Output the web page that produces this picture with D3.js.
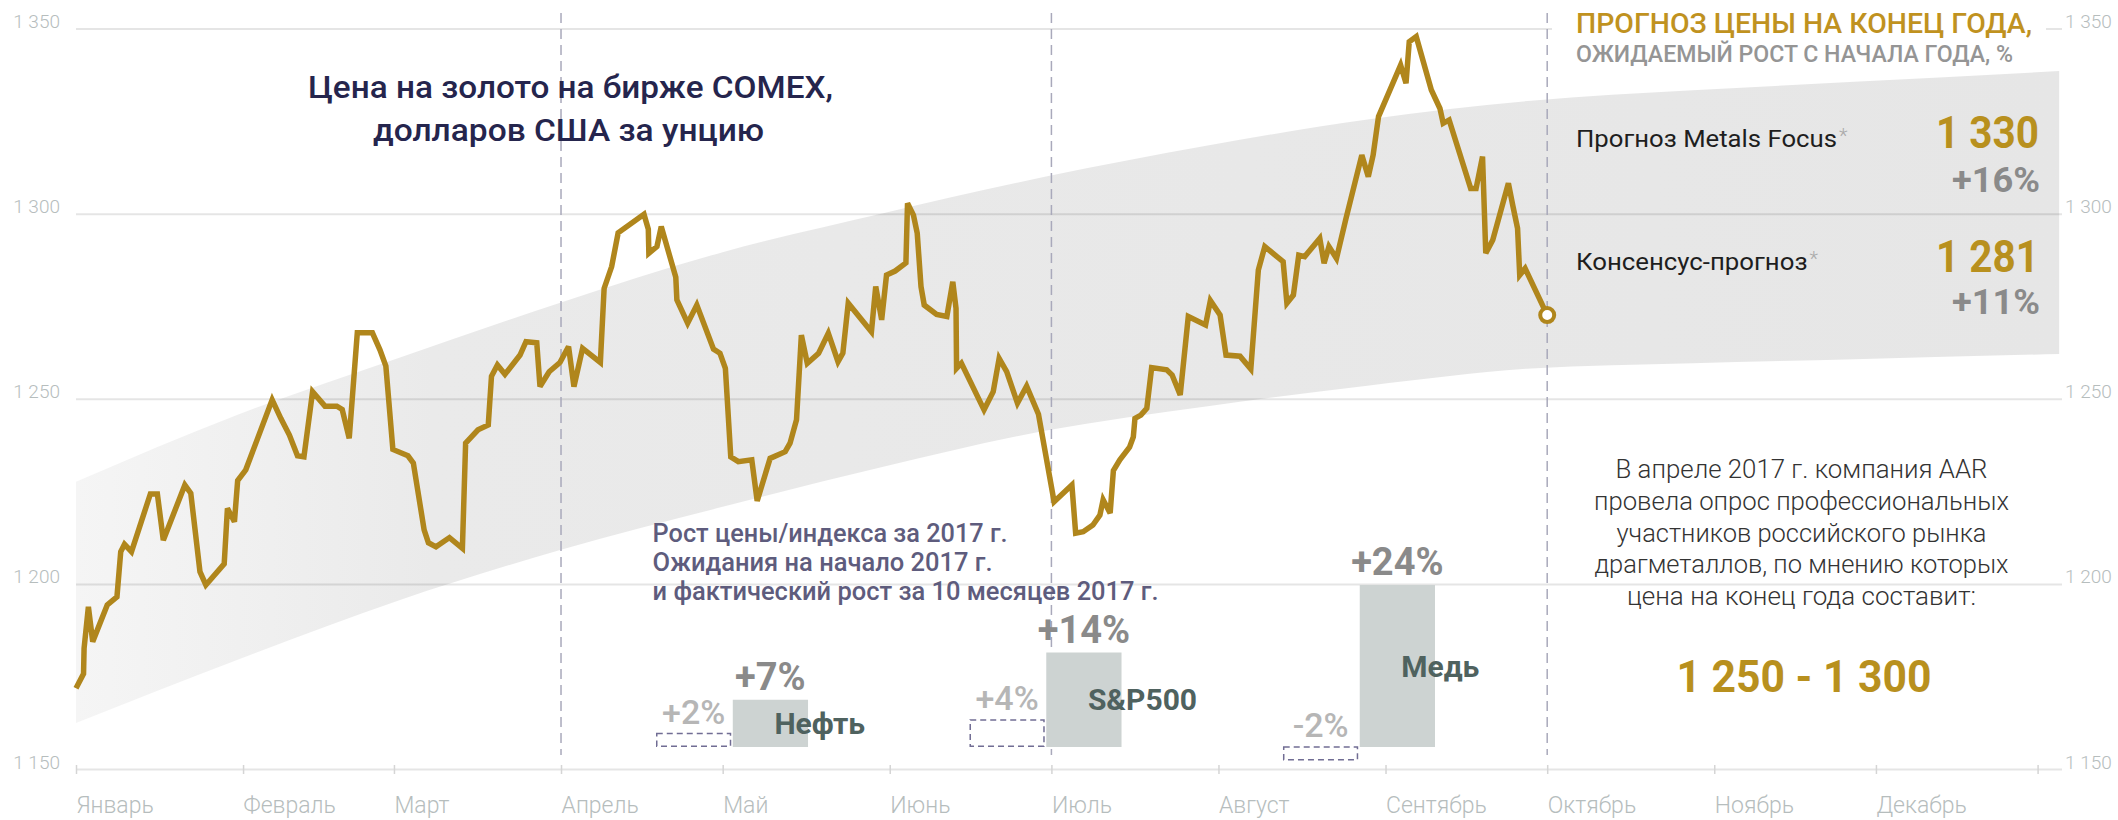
<!DOCTYPE html>
<html><head><meta charset="utf-8">
<script src="https://cdn.jsdelivr.net/npm/d3@7"></script>
<style>
html,body{margin:0;padding:0;background:#fff;}
svg{display:block;font-family:Roboto,"Noto Sans",sans-serif;}
</style></head><body>
<svg id="chart" width="2118" height="820"></svg>
<script>
// ---------- DATA ----------
// Gold price, COMEX, USD/oz. priceDays = days since 1 Jan 2017
const priceDays = [
  0,1.4,1.5,2.3,3.1,5.8,7.6,8.3,9.0,10.3,
  13.8,15.1,16.2,20.2,21.3,23.0,24.1,27.5,28.1,29.4,
  30.0,31.5,36.4,38.0,39.6,41.1,42.3,43.9,46.2,48.4,
  49.4,50.7,52.2,55.0,56.4,57.5,58.8,61.6,62.6,64.6,
  65.4,66.8,69.3,71.7,72.3,74.6,76.5,77.1,78.2,79.6,
  82.4,83.5,85.5,86.1,87.8,89.8,91.4,92.4,94.0,97.3,
  98.0,99.4,100.6,105.4,106.2,106.3,107.8,108.6,111.3,111.5,
  113.5,115.2,118.3,119.5,120.5,121.5,122.9,125.4,126.4,128.8,
  131.6,132.5,133.7,134.6,135.7,137.8,139.6,141.4,142.3,143.3,
  147.6,148.4,149.5,150.4,152.0,154.0,154.3,155.4,156.1,156.8,
  157.4,159.7,161.6,162.7,163.3,163.4,164.3,168.5,170.2,171.3,
  172.7,174.7,176.4,178.6,181.5,184.8,185.5,186.9,188.7,190.0,
  190.6,191.9,192.5,193.7,195.5,196.2,196.5,197.6,198.7,199.6,
  202.4,203.4,204.9,206.4,209.6,210.5,212.3,213.4,216.0,218.0,
  219.4,220.6,224.0,224.7,225.9,226.9,228.0,230.8,231.6,232.5,
  233.9,235.6,238.6,239.8,240.7,241.7,245.8,246.8,247.4,248.7,
  251.5,253.1,253.7,254.8,258.8,259.8,261.0,261.6,262.9,265.8,
  266.6,267.5,267.9,268.9,273.0
];
const priceValues = [
  1171.8,1175.7,1182.6,1193.8,1184.4,1194.3,1196.5,1208.7,1210.7,1208.7,
  1224.3,1224.3,1211.8,1226.7,1224.5,1203.3,1199.7,1205.4,1220.4,1216.8,
  1227.9,1230.8,1249.7,1244.7,1240.2,1234.6,1234.3,1251.9,1248.0,1248.0,
  1247.1,1239.3,1267.8,1267.8,1263.2,1258.8,1236.3,1234.6,1232.6,1214.6,
  1211.1,1210.0,1212.5,1209.6,1238.0,1241.6,1242.9,1256.1,1259.1,1256.6,
  1261.8,1265.4,1265.1,1253.3,1257.3,1259.8,1264.1,1253.3,1263.6,1259.8,
  1279.8,1285.7,1294.8,1299.8,1295.8,1289.3,1291.1,1296.5,1282.8,1276.7,
  1270.4,1275.3,1263.4,1262.3,1258.2,1234.3,1233.0,1233.5,1222.4,1233.9,
  1235.7,1238.0,1244.3,1267.2,1259.6,1262.3,1267.7,1260.0,1262.3,1275.8,
  1268.1,1280.3,1271.3,1283.4,1284.5,1286.7,1302.8,1299.6,1294.7,1280.3,
  1275.3,1272.8,1272.2,1281.6,1274.4,1258.2,1259.6,1247.0,1251.9,1260.9,
  1257.3,1248.8,1253.4,1245.8,1222.2,1226.7,1213.7,1214.1,1215.9,1218.6,
  1222.7,1219.1,1230.6,1233.5,1236.9,1239.7,1244.7,1245.6,1247.4,1258.4,
  1257.8,1256.4,1251.0,1272.2,1269.9,1276.5,1272.6,1261.8,1261.5,1258.0,
  1284.8,1291.1,1287.0,1275.8,1278.0,1288.8,1288.4,1293.3,1286.6,1291.1,
  1287.9,1298.3,1315.8,1310.0,1315.8,1326.2,1340.1,1335.2,1346.4,1347.8,
  1333.4,1328.4,1324.4,1325.3,1306.8,1306.8,1315.4,1289.3,1292.9,1308.2,
  1302.3,1296.0,1283.4,1285.2,1272.6
];
// Expected range band (days since 1 Jan 2017)
const bandDays  = [0,30,60,90,120,150,180,210,240,270,300,330,368];
const bandUpper = [1227.6,1245.7,1261.1,1276.0,1289.6,1300.2,1310.0,1318.4,1325.5,1330.5,1333.3,1335.6,1338.5];
const bandLower = [1162.4,1179.5,1195.6,1209.2,1220.8,1231.7,1241.4,1248.0,1253.6,1258.2,1259.6,1260.7,1262.1];

const yTicks = [1150,1200,1250,1300,1350];
const monthLabels = ["Январь","Февраль","Март","Апрель","Май","Июнь","Июль","Август","Сентябрь","Октябрь","Ноябрь","Декабрь"];
const quarterMonths = [3,6,9];

const forecastNames  = ["Прогноз Metals Focus","Консенсус-прогноз"];
const forecastPrices = [1330,1281];
const forecastGrowth = [16,11];

const assetNames    = ["Нефть","S&P500","Медь"];
const assetExpected = [2,4,-2];
const assetActual   = [7,14,24];

const surveyLines = ["В апреле 2017 г. компания AAR","провела опрос профессиональных","участников российского рынка","драгметаллов, по мнению которых","цена на конец года составит:"];
const surveyRange = [1250,1300];

// ---------- SETUP ----------
const svg = d3.select("#chart");
const ru = d3.formatLocale({decimal:",",thousands:" ",grouping:[3],currency:["",""],minus:"-"});
const fmt = ru.format(",");
const pct = v => ru.format("+")(v) + "%";
const t0 = Date.UTC(2017,0,1);
const dayToDate = d => new Date(t0 + d*864e5);

const x = d3.scaleUtc().domain([new Date(t0), new Date(Date.UTC(2017,11,31))]).range([76, 2037.6]);
const y = d3.scaleLinear().domain([1150,1350]).range([769, 28.5]);

function label(g, str, o){
  const t = g.append("text").text(str)
    .attr("x",o.x).attr("y",o.y)
    .attr("font-size",o.size).attr("font-weight",o.weight||400)
    .attr("fill",o.fill).attr("text-anchor",o.anchor||"start");
  if (o.width) t.attr("textLength",o.width).attr("lengthAdjust","spacingAndGlyphs");
  return t;
}

// gradient for band
const defs = svg.append("defs");
const grad = defs.append("linearGradient").attr("id","bandGrad")
  .attr("gradientUnits","userSpaceOnUse").attr("x1",76).attr("x2",2059).attr("y1",0).attr("y2",0);
[[0,"#f5f5f5"],[0.18,"#eaeaea"],[1,"#e6e6e6"]].forEach(([o,c])=>grad.append("stop").attr("offset",o).attr("stop-color",c));

// band
const bandData = bandDays.map((d,i)=>({d, hi:bandUpper[i], lo:bandLower[i]}));
svg.append("path").datum(bandData)
  .attr("fill","url(#bandGrad)")
  .attr("d", d3.area().x(p=>x(dayToDate(p.d))).y0(p=>y(p.lo)).y1(p=>y(p.hi)).curve(d3.curveMonotoneX));

// gridlines
svg.append("g").attr("transform","translate(76,0)")
  .call(d3.axisLeft(y).tickValues(yTicks).tickSize(-(2062-76)).tickFormat(""))
  .call(g=>g.select(".domain").remove())
  .call(g=>g.selectAll("line").attr("stroke","#000").attr("stroke-opacity",0.1).attr("stroke-width",2));

// y labels left/right
function styleY(g){
  g.select(".domain").remove();
  g.attr("font-family",null).attr("font-size",null);
  g.selectAll("text").attr("dy",null).attr("y",-1).attr("fill","#b6bdbd")
    .attr("font-size",19).attr("font-weight",300);
}
svg.append("g").attr("transform","translate(60,0)")
  .call(d3.axisLeft(y).tickValues(yTicks).tickSize(0).tickPadding(0).tickFormat(fmt)).call(styleY);
svg.append("g").attr("transform","translate(2065,0)")
  .call(d3.axisRight(y).tickValues(yTicks).tickSize(0).tickPadding(0).tickFormat(fmt)).call(styleY);

// x axis
const xTicks = d3.range(12).map(m=>new Date(Date.UTC(2017,m,1))).concat([new Date(Date.UTC(2017,11,31))]);
svg.append("g").attr("transform","translate(0,769)")
  .call(d3.axisBottom(x).tickValues(xTicks).tickSize(5).tickFormat((d,i)=> i<12 ? monthLabels[i] : ""))
  .call(g=>{g.select(".domain").remove(); g.attr("font-family",null).attr("font-size",null);})
  .call(g=>g.selectAll(".tick line").attr("y1",-4).attr("y2",5).attr("stroke","#d5d5d5").attr("stroke-width",1.5))
  .call(g=>g.selectAll(".tick text").attr("y",44).attr("dy",null).attr("text-anchor","start")
     .attr("fill","#b6bdbd").attr("font-size",23).attr("font-weight",300));

// white background behind forecast header
svg.append("rect").attr("x",1552).attr("y",6).attr("width",494).attr("height",62).attr("fill","#fff");

// quarter dashed lines
svg.append("g").selectAll("line").data(quarterMonths).join("line")
  .attr("x1",m=>x(new Date(Date.UTC(2017,m,1)))).attr("x2",m=>x(new Date(Date.UTC(2017,m,1))))
  .attr("y1",13).attr("y2",755)
  .attr("stroke","#a9a9bb").attr("stroke-width",1.5).attr("stroke-dasharray","10,6");

// gold price line
const pricePts = priceDays.map((d,i)=>[d, priceValues[i]]);
svg.append("path").datum(pricePts)
  .attr("fill","none").attr("stroke","#b0861c").attr("stroke-width",5.5)
  .attr("stroke-linejoin","miter").attr("stroke-miterlimit",3)
  .attr("d", d3.line().x(p=>x(dayToDate(p[0]))).y(p=>y(p[1])));
const last = pricePts[pricePts.length-1];
svg.append("circle").attr("cx",x(dayToDate(last[0]))).attr("cy",y(last[1])).attr("r",7)
  .attr("fill","#fff").attr("stroke","#b0861c").attr("stroke-width",4);

// ---------- TEXT ----------
const T = svg.append("g");
label(T,"Цена на золото на бирже COMEX,",{x:570.5,y:98,size:32,weight:500,fill:"#25254d",anchor:"middle",width:525});
label(T,"долларов США за унцию",{x:568.5,y:141,size:32,weight:500,fill:"#25254d",anchor:"middle",width:391});

label(T,"ПРОГНОЗ ЦЕНЫ НА КОНЕЦ ГОДА,",{x:1576,y:33.3,size:28,weight:500,fill:"#c0921f",width:456});
label(T,"ОЖИДАЕМЫЙ РОСТ С НАЧАЛА ГОДА, %",{x:1576,y:61.7,size:23,weight:500,fill:"#959595",width:437});

const fNameY = [146.7,270], fNameW = [261,231.5], fPriceY=[148.3,271.7], fGrowY=[191.7,314.3];
forecastNames.forEach((n,i)=>{
  label(T,n,{x:1576,y:fNameY[i],size:23,weight:400,fill:"#1e1e1e",width:fNameW[i]});
  label(T,"*",{x:1576+fNameW[i]+2,y:fNameY[i]-4,size:20,weight:300,fill:"#aaaaaa"});
  label(T,fmt(forecastPrices[i]),{x:2039,y:fPriceY[i],size:44,weight:700,fill:"#b8901e",anchor:"end",width:103});
  label(T,pct(forecastGrowth[i]),{x:2040,y:fGrowY[i],size:35,weight:700,fill:"#8a8a8a",anchor:"end",width:88});
});

const sW=[372,415,370,414,349];
surveyLines.forEach((s,i)=>label(T,s,{x:1801.5,y:478.3+i*31.7,size:25,weight:300,fill:"#333",anchor:"middle",width:sW[i]}));
label(T,fmt(surveyRange[0])+" - "+fmt(surveyRange[1]),{x:1804,y:691.7,size:44,weight:700,fill:"#b8901e",anchor:"middle",width:255});

const aLines=["Рост цены/индекса за 2017 г.","Ожидания на начало 2017 г.","и фактический рост за 10 месяцев 2017 г."];
const aW=[355,340,506], aY=[541.7,570.7,600];
aLines.forEach((s,i)=>label(T,s,{x:652.6,y:aY[i],size:25,weight:500,fill:"#5e5c7d",width:aW[i]}));

// ---------- BARS ----------
const xg = d3.scaleBand().domain(assetNames).range([656,1435]).paddingInner(0.515).paddingOuter(0);
const xs = d3.scaleBand().domain(["exp","act"]).range([0,xg.bandwidth()]).paddingInner(0.02);
const yb = d3.scaleLinear().domain([0,24]).range([747,585]);
const B = svg.append("g");
assetNames.forEach((n,i)=>{
  const gx = xg(n);
  const e = assetExpected[i], a = assetActual[i];
  const ex = gx+xs("exp"), ax = gx+xs("act"), w = xs.bandwidth();
  B.append("rect").attr("x",ex+0.75).attr("y",yb(Math.max(e,0))).attr("width",w-1.5)
    .attr("height",Math.abs(yb(e)-yb(0))-0.75)
    .attr("fill","none").attr("stroke","#716d94").attr("stroke-width",1.5).attr("stroke-dasharray","6,4");
  B.append("rect").attr("x",ax).attr("y",yb(Math.max(a,0))).attr("width",w)
    .attr("height",Math.abs(yb(a)-yb(0))).attr("fill","#cdd3d2");
  label(B,pct(e),{x:ex+w/2,y:yb(Math.max(e,0))-10,size:34,weight:500,fill:"#b6b6b6",anchor:"middle"});
  label(B,pct(a),{x:ax+w/2,y:yb(Math.max(a,0))-10,size:38,weight:700,fill:"#8a8a8a",anchor:"middle"});
  label(B,n,{x:ax+w/2+4,y:(yb(a)+yb(0))/2,size:30,weight:700,fill:"#4f625f"}).attr("dy","0.35em");
});
</script>
</body></html>
